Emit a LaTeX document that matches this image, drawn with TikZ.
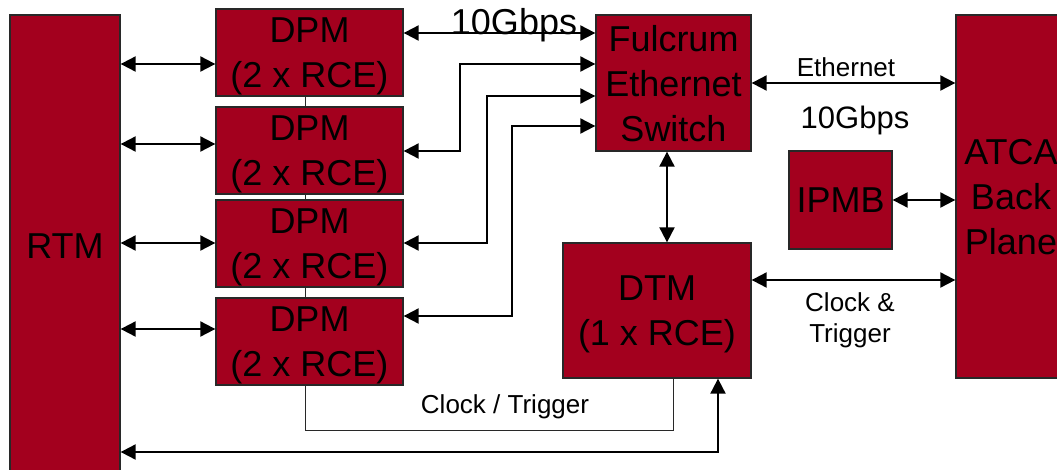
\documentclass[tikz,border=0pt]{standalone}
\usepackage{fontspec}
\setmainfont{Liberation Sans}
\usetikzlibrary{arrows.meta}
\definecolor{boxred}{RGB}{163,0,30}
\definecolor{edge}{RGB}{40,40,40}

\begin{document}
\begin{tikzpicture}[x=1pt,y=-1pt,
  block/.style={draw=edge, line width=1.3pt, fill=boxred, inner sep=0pt,
    text depth=0pt, align=center, font=\fontsize{36}{45}\selectfont},
  tip/.tip={Triangle[length=15pt,width=15pt]},
  link/.style={line width=2pt, tip-tip},
  wire/.style={line width=1pt, draw=edge},
  lbl/.style={inner sep=0pt, font=\fontsize{26}{31}\selectfont, align=center, text depth=0pt}]

\useasboundingbox (0,0) rectangle (1057,469);
\clip (0,0) rectangle (1057,469);

% blocks
\node[block, minimum width=110pt, minimum height=462pt] (rtm) at (65,246) {RTM};
\node[block, minimum width=187pt, minimum height=87pt] (dpm1) at (309.5,52.5) {DPM\\(2 x RCE)};
\node[block, minimum width=187pt, minimum height=87pt] (dpm2) at (309.5,150.5) {DPM\\(2 x RCE)};
\node[block, minimum width=187pt, minimum height=87pt] (dpm3) at (309.5,243.5) {DPM\\(2 x RCE)};
\node[block, minimum width=187pt, minimum height=87pt] (dpm4) at (309.5,341.5) {DPM\\(2 x RCE)};
\node[block, minimum width=155pt, minimum height=136pt] (sw) at (673.5,83) {Fulcrum\\Ethernet\\Switch};
\node[block, minimum width=188pt, minimum height=135pt] (dtm) at (657,310.5) {DTM\\(1 x RCE)};
\node[block, minimum width=103pt, minimum height=98pt] (ipmb) at (840.5,200) {IPMB};
\node[block, minimum width=110pt, minimum height=363pt] (atca) at (1011,196.5) {ATCA\\Back\\Plane};

% row / column helpers
\coordinate (r1) at (0,64);
\coordinate (r2) at (0,144);
\coordinate (r3) at (0,243);
\coordinate (r4) at (0,329);
\coordinate (s1) at (0,33);
\coordinate (s2) at (0,64);
\coordinate (s3) at (0,96);
\coordinate (s4) at (0,126);
\coordinate (d2) at (0,151);
\coordinate (d3) at (0,243);
\coordinate (d4) at (0,316);
\coordinate (ct) at (0,280);
\coordinate (bot) at (0,452);
\coordinate (cx) at (667,0);
\coordinate (tx) at (718,0);
\coordinate (kx) at (673,0);

% thin links between the DPM boards
\draw[wire] ([xshift=-4.5pt]dpm1.south) -- ([xshift=-4.5pt]dpm2.north);
\draw[wire] ([xshift=-4.5pt]dpm2.south) -- ([xshift=-4.5pt]dpm3.north);
\draw[wire] ([xshift=-4.5pt]dpm3.south) -- ([xshift=-4.5pt]dpm4.north);

% clock / trigger fan-out
\draw[wire] ([xshift=-4.5pt]dpm4.south) -- (305,430) -- (673,430) -- (dtm.south -| kx);

% RTM to DPMs
\draw[link] (rtm.east |- r1) -- (dpm1.west |- r1);
\draw[link] (rtm.east |- r2) -- (dpm2.west |- r2);
\draw[link] (rtm.east |- r3) -- (dpm3.west |- r3);
\draw[link] (rtm.east |- r4) -- (dpm4.west |- r4);

% DPMs to the switch
\draw[link] (dpm1.east |- s1) -- (sw.west |- s1);
\draw[link] (sw.west |- s2) -- (460,64) -- (460,151) -- (dpm2.east |- d2);
\draw[link] (sw.west |- s3) -- (487,96) -- (487,243) -- (dpm3.east |- d3);
\draw[link] (sw.west |- s4) -- (512,126) -- (512,316) -- (dpm4.east |- d4);

% switch, DTM, IPMB and backplane
\draw[link] (sw.south -| cx) -- (dtm.north -| cx);
\draw[link] (sw.east) -- (atca.west |- sw.east);
\draw[link] (ipmb.east) -- (atca.west |- ipmb.east);
\draw[link] (dtm.east |- ct) -- (atca.west |- ct);
\draw[link] (dtm.south -| tx) -- (718,452) -- (rtm.east |- bot);

% labels
\node[lbl, anchor=base, font=\fontsize{36}{45}\selectfont] (g1) at (514,34) {10Gbps};
\node[lbl, anchor=base] (eth) at (846,76) {Ethernet};
\node[lbl, anchor=base, font=\fontsize{31}{37}\selectfont] (g2) at (855,128) {10Gbps};
\node[lbl] (clk) at (850,318) {Clock \&\\Trigger};
\node[lbl, anchor=base] (clt) at (505,413) {Clock / Trigger};
\end{tikzpicture}
\end{document}
